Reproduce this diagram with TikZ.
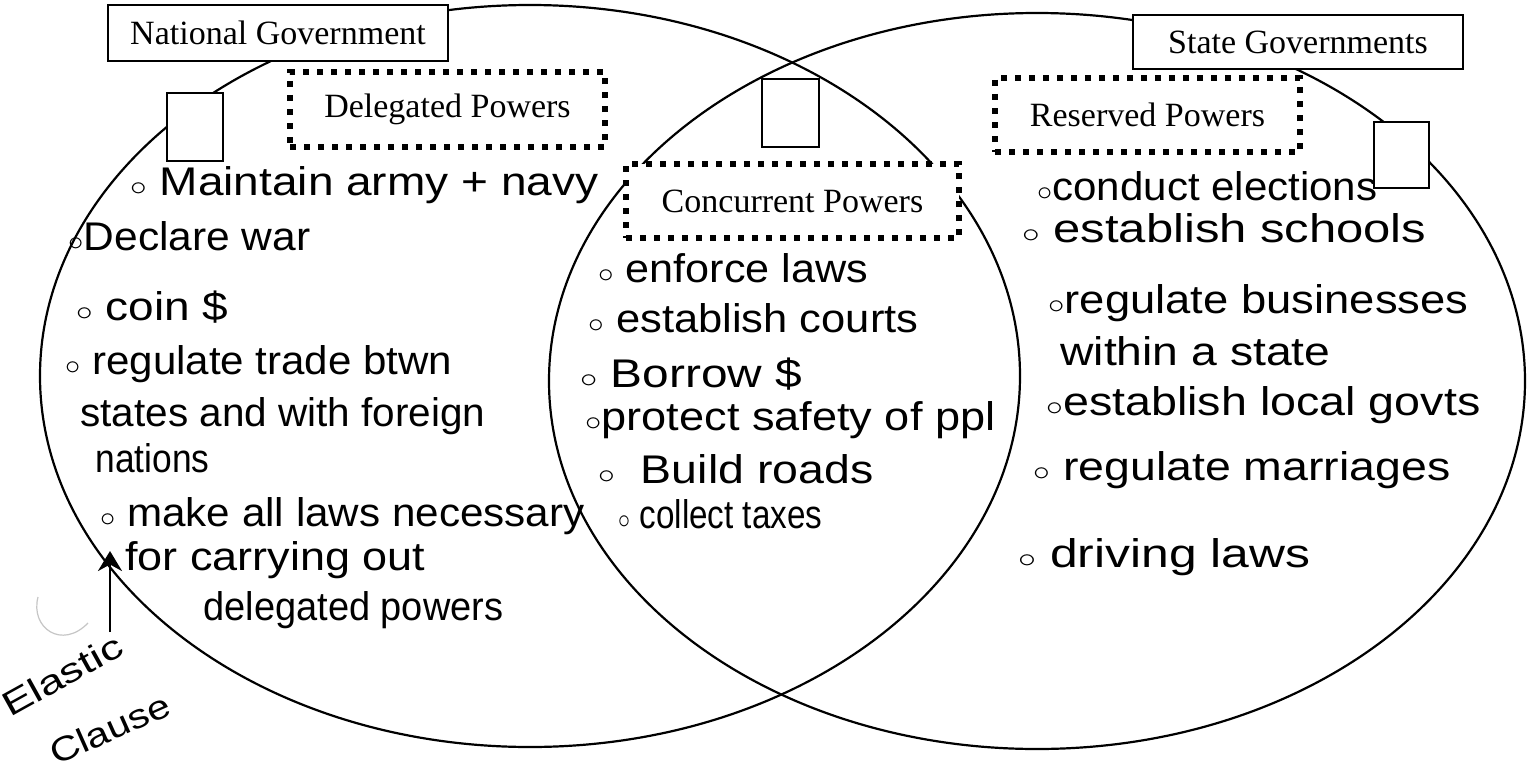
\documentclass[tikz,border=0pt]{standalone}
\usepackage{fontspec}
\usepackage{graphicx}
\usetikzlibrary{arrows.meta}
\setmainfont{Liberation Serif}
\newfontfamily\handfont{Liberation Sans}
\newcommand\hw[2]{\resizebox{#1}{\height}{\handfont\fontsize{20}{22}\selectfont #2}}
\newcommand\hwsmall[2]{\resizebox{#1}{\height}{\handfont\fontsize{17}{19}\selectfont #2}}
\newcommand\bul{$\scriptstyle\circ$}
\begin{document}
\begin{tikzpicture}[x=0.5pt,y=-0.5pt,
  venn/.style={line width=1.1pt},
  solidbox/.style={draw, line width=1pt, fill=white, inner sep=0pt, font=\fontsize{17}{19}\selectfont},
  emptybox/.style={draw, line width=1pt, fill=white, inner sep=0pt},
  dotbox/.style={draw, line width=3pt, dash pattern=on 3pt off 4pt, fill=white, inner sep=0pt, font=\fontsize{17}{19}\selectfont},
  handtxt/.style={inner sep=0pt, anchor=base west},
  arrowline/.style={line width=1.3pt, -{Stealth[length=10pt,width=12pt]}}
]
\useasboundingbox (0,0) rectangle (1533,771);
\fill[white] (0,0) rectangle (1533,771);

% the two ovals
\draw[venn] (530,376) ellipse [x radius=245pt, y radius=185.5pt];
\draw[venn] (1037,381) ellipse [x radius=244pt, y radius=184pt];

% title boxes
\node[solidbox, minimum width=170pt, minimum height=28pt] (natgov) at (278,33) {National Government};
\node[solidbox, minimum width=165pt, minimum height=27pt] (stategov) at (1298,42) {State Governments};

% empty squares
\node[emptybox, minimum width=28pt, minimum height=34pt] (sqL) at (195,127) {};
\node[emptybox, minimum width=28.5pt, minimum height=34pt] (sqM) at (790.5,113) {};
\node[emptybox, minimum width=27.5pt, minimum height=33pt] (sqR) at (1401.5,155) {};

% dotted heading boxes
\node[dotbox, minimum width=157.5pt, minimum height=37.5pt] (deleg) at (447.5,109.5) {Delegated Powers};
\node[dotbox, minimum width=166.5pt, minimum height=37pt] (concur) at (792.5,201) {Concurrent Powers};
\node[dotbox, minimum width=152.5pt, minimum height=37pt] (reserv) at (1147.5,115) {Reserved Powers};

% left list
\node[handtxt] (l1) at (130,195) {\hw{234pt}{\bul\ Maintain army + navy}};
\node[handtxt] (l2) at (68,250) {\hw{121pt}{\bul Declare war}};
\node[handtxt] (l3) at (76,320) {\hw{76pt}{\bul\ coin \$}};
\node[handtxt] (l4) at (65,374) {\hw{193.5pt}{\bul\ regulate trade btwn}};
\node[handtxt] (l5) at (80,426) {\hw{202.5pt}{states and with foreign}};
\node[handtxt] (l6) at (95,472) {\hw{57pt}{nations}};
\node[handtxt] (l7) at (100,526) {\hw{242pt}{\bul\ make all laws necessary}};
\node[handtxt] (l8) at (125,570) {\hw{150pt}{for carrying out}};
\node[handtxt] (l9) at (203,620) {\hw{150pt}{delegated powers}};

% middle list
\node[handtxt] (m1) at (598,282) {\hw{135pt}{\bul\ enforce laws}};
\node[handtxt] (m2) at (588,332) {\hw{165pt}{\bul\ establish courts}};
\node[handtxt] (m3) at (580,387) {\hw{111pt}{\bul\ Borrow \$}};
\node[handtxt] (m4) at (585,430) {\hw{205pt}{\bul protect safety of ppl}};
\node[handtxt] (m5) at (598,483) {\hw{137.5pt}{\bul\ \ Build roads}};
\node[handtxt] (m6) at (618,528) {\hw{102pt}{\bul\ collect taxes}};

% right list
\node[handtxt] (r1) at (1037,200) {\hw{170pt}{\bul conduct elections}};
\node[handtxt] (r2) at (1022,242) {\hw{202pt}{\bul\ establish schools}};
\node[handtxt] (r3) at (1048,313) {\hw{210pt}{\bul regulate businesses}};
\node[handtxt] (r4) at (1060,365) {\hw{135pt}{within a state}};
\node[handtxt] (r5) at (1046,415) {\hw{217pt}{\bul establish local govts}};
\node[handtxt] (r6) at (1033,480) {\hw{208.5pt}{\bul\ regulate marriages}};
\node[handtxt] (r7) at (1018,567) {\hw{146pt}{\bul\ driving laws}};

% elastic clause annotation
\coordinate (arrS) at (110,632);
\coordinate (arrE) at (110,551);
\draw[arrowline] (arrS) -- (arrE);
\node[handtxt, rotate=29] (elastic) at (10,718) {\hwsmall{66pt}{Elastic}};
\node[handtxt, rotate=24] (clause) at (56,766) {\hwsmall{64pt}{Clause}};

% faint stray arc
\draw[gray!45, line width=0.6pt] (38,597) .. controls (30,628) and (62,650) .. (88,623);
\end{tikzpicture}
\end{document}
